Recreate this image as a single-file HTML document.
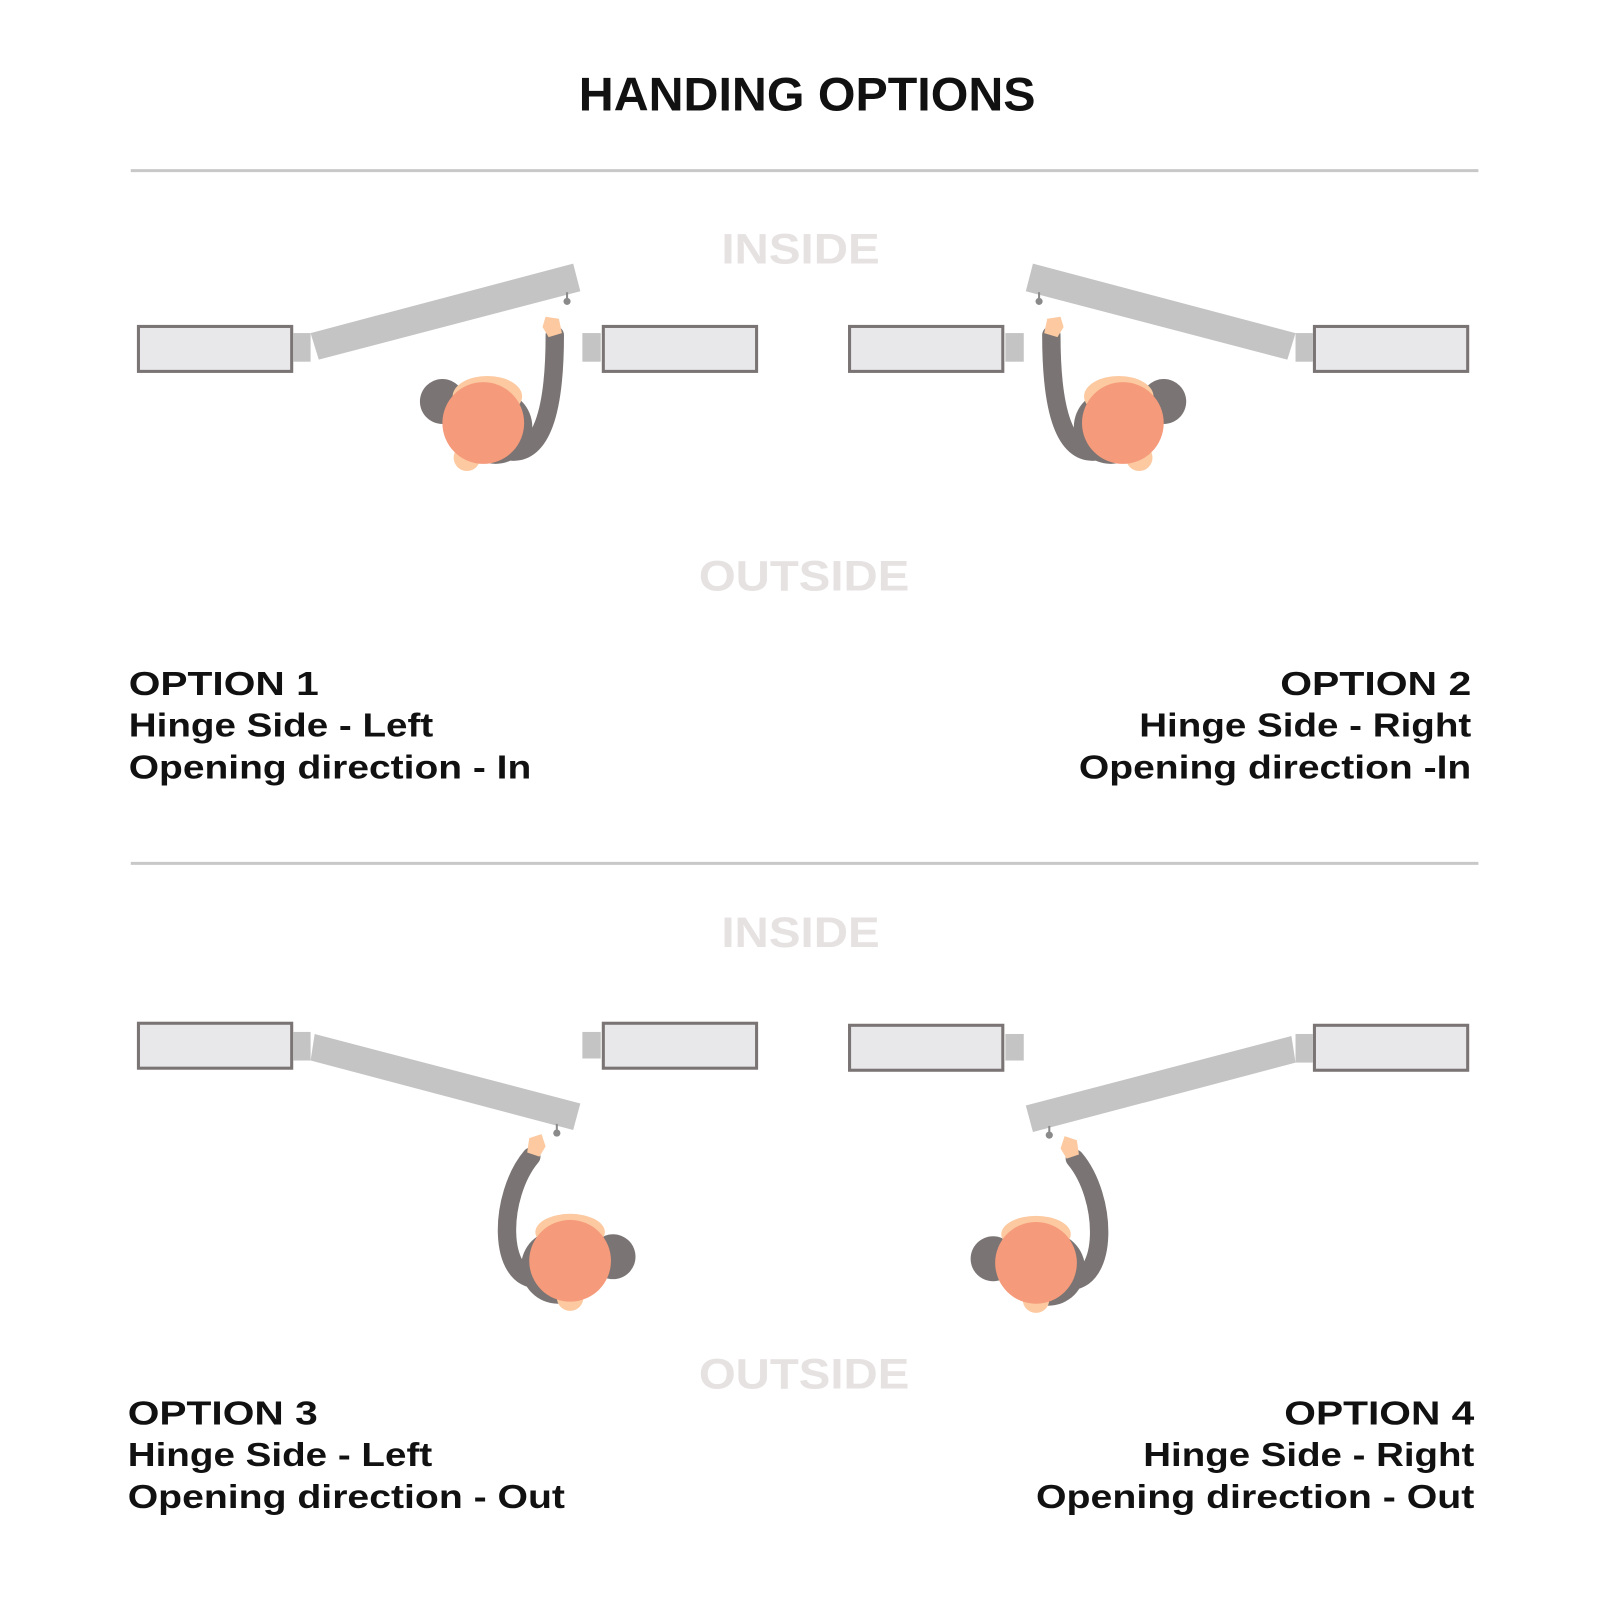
<!DOCTYPE html>
<html><head><meta charset="utf-8"><style>
html,body{margin:0;padding:0;background:#fff;}
svg{display:block;}
text{font-family:"Liberation Sans",sans-serif;font-weight:bold;}
</style></head><body>
<svg width="1600" height="1600" viewBox="0 0 1566 1566" xmlns="http://www.w3.org/2000/svg">
<defs>
<g id="personA">
  <path d="M 28 32 Q 70 34 70 -82" fill="none" stroke="#7a7574" stroke-width="18" stroke-linecap="round"/>
  <circle cx="-40" cy="-17" r="22" fill="#7a7574"/>
  <circle cx="12" cy="8" r="36" fill="#7a7574"/>
  <circle cx="-16" cy="38" r="13" fill="#fcc9a0"/>
  <ellipse cx="4" cy="-22" rx="34" ry="20" fill="#fcc9a0"/>
  <circle cx="0" cy="4" r="40" fill="#f59a7a"/>
  <path d="M 61 -100 L 74 -98 L 77 -84 L 64 -80 L 58 -90 Z" fill="#fcc9a0"/>
</g>
<g id="personB">
  <path d="M 30 22 C 72 24 70 -60 38 -98" fill="none" stroke="#7a7574" stroke-width="18" stroke-linecap="round"/>
  <circle cx="-42" cy="0" r="22" fill="#7a7574"/>
  <circle cx="12" cy="10" r="36" fill="#7a7574"/>
  <circle cx="0" cy="40" r="13" fill="#fcc9a0"/>
  <ellipse cx="0" cy="-24" rx="34" ry="18" fill="#fcc9a0"/>
  <circle cx="0" cy="4" r="40" fill="#f59a7a"/>
  <path d="M 28 -120 L 40 -116 L 42 -102 L 30 -98 L 24 -108 Z" fill="#fcc9a0"/>
</g>
<g id="opt1">
  <rect x="135.5" y="319.5" width="150" height="44" fill="#e8e8ea" stroke="#7a7574" stroke-width="3"/>
  <rect x="287" y="326" width="17" height="28" fill="#c4c4c4"/>
  <polygon points="304,326 561,258 568,285 312,352" fill="#c4c4c4"/>
  <line x1="555" y1="286" x2="555" y2="294" stroke="#8a8a8a" stroke-width="2"/>
  <circle cx="555" cy="295" r="3.5" fill="#8a8a8a"/>
  <rect x="570" y="326" width="18" height="28" fill="#c4c4c4"/>
  <rect x="590.5" y="319.5" width="150" height="44" fill="#e8e8ea" stroke="#7a7574" stroke-width="3"/>
  <use href="#personA" transform="translate(473,410)"/>
</g>
<g id="opt3">
  <rect x="135.5" y="1001.5" width="150" height="44" fill="#e8e8ea" stroke="#7a7574" stroke-width="3"/>
  <rect x="287" y="1010" width="17" height="28" fill="#c4c4c4"/>
  <polygon points="308,1012 568,1080 561,1106 304,1038" fill="#c4c4c4"/>
  <line x1="545" y1="1100" x2="545" y2="1107" stroke="#8a8a8a" stroke-width="2"/>
  <circle cx="545" cy="1109" r="3.5" fill="#8a8a8a"/>
  <rect x="570" y="1010" width="18" height="26" fill="#c4c4c4"/>
  <rect x="590.5" y="1001.5" width="150" height="44" fill="#e8e8ea" stroke="#7a7574" stroke-width="3"/>
  <use href="#personB" transform="translate(558,1230) scale(-1,1)"/>
</g>
</defs>

<text x="790" y="108" font-size="46" text-anchor="middle" fill="#111" textLength="447" lengthAdjust="spacingAndGlyphs">HANDING OPTIONS</text>
<line x1="128" y1="167" x2="1447" y2="167" stroke="#c8c8c8" stroke-width="3"/>
<line x1="128" y1="845" x2="1447" y2="845" stroke="#c8c8c8" stroke-width="3"/>

<g fill="#e6e2e2" font-size="42">
<text x="706" y="258" textLength="155" lengthAdjust="spacingAndGlyphs">INSIDE</text>
<text x="684" y="578" textLength="206" lengthAdjust="spacingAndGlyphs">OUTSIDE</text>
<text x="706" y="927" textLength="155" lengthAdjust="spacingAndGlyphs">INSIDE</text>
<text x="684" y="1359" textLength="206" lengthAdjust="spacingAndGlyphs">OUTSIDE</text>
</g>

<use href="#opt1"/>
<use href="#opt1" transform="translate(1572,0) scale(-1,1)"/>
<use href="#opt3"/>
<use href="#opt3" transform="translate(1572,2) scale(-1,1)"/>

<g fill="#111" font-size="33">
<text x="126" y="680" textLength="186" lengthAdjust="spacingAndGlyphs">OPTION 1</text>
<text x="126" y="721" textLength="298" lengthAdjust="spacingAndGlyphs">Hinge Side - Left</text>
<text x="126" y="762" textLength="394" lengthAdjust="spacingAndGlyphs">Opening direction - In</text>
<text x="1253" y="680" textLength="187" lengthAdjust="spacingAndGlyphs">OPTION 2</text>
<text x="1115" y="721" textLength="325" lengthAdjust="spacingAndGlyphs">Hinge Side - Right</text>
<text x="1056" y="762" textLength="384" lengthAdjust="spacingAndGlyphs">Opening direction -In</text>
<text x="125" y="1394" textLength="186" lengthAdjust="spacingAndGlyphs">OPTION 3</text>
<text x="125" y="1435" textLength="298" lengthAdjust="spacingAndGlyphs">Hinge Side - Left</text>
<text x="125" y="1476" textLength="428" lengthAdjust="spacingAndGlyphs">Opening direction - Out</text>
<text x="1257" y="1394" textLength="186" lengthAdjust="spacingAndGlyphs">OPTION 4</text>
<text x="1119" y="1435" textLength="324" lengthAdjust="spacingAndGlyphs">Hinge Side - Right</text>
<text x="1014" y="1476" textLength="429" lengthAdjust="spacingAndGlyphs">Opening direction - Out</text>
</g>
</svg>
</body></html>
